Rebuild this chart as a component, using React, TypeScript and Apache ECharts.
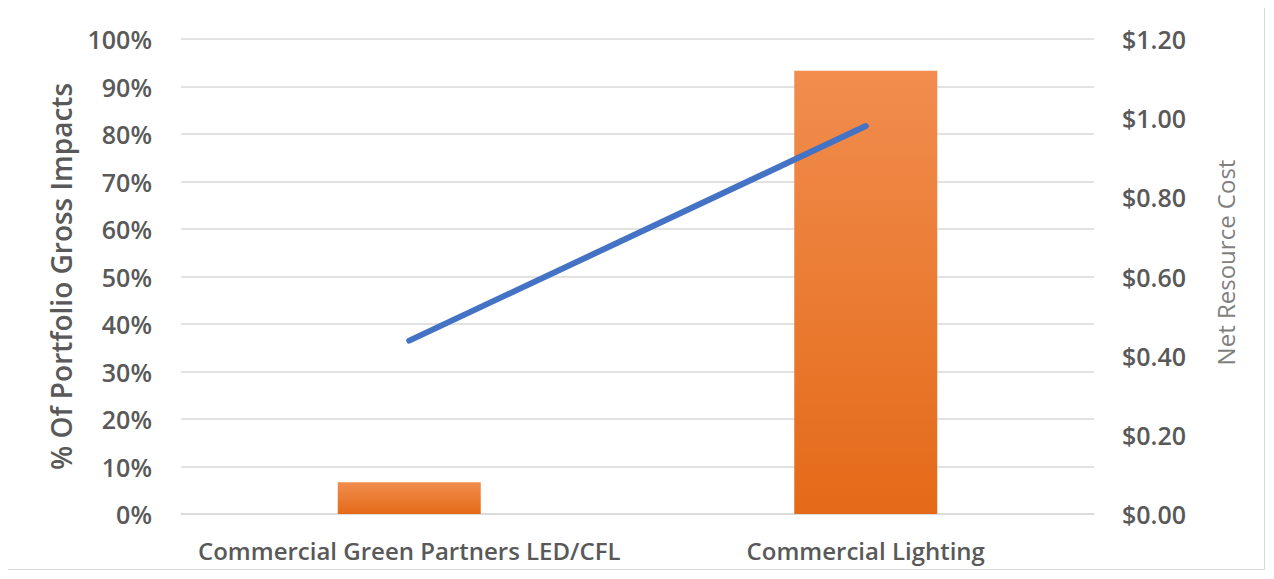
import React, { useEffect, useRef } from "react";
import * as echarts from "echarts";

const categories = ["Commercial Green Partners LED/CFL", "Commercial Lighting"];
const grossImpacts = [0.067, 0.933];
const netResourceCost = [0.438, 0.98];
const leftTicks = { min: 0, max: 1, interval: 0.1 };
const rightTicks = { min: 0, max: 1.2, interval: 0.2 };

const FONT = "'Open Sans', 'Noto Sans', sans-serif";

export default function App() {
  const ref = useRef<HTMLDivElement>(null);
  useEffect(() => {
    if (!ref.current) return;
    const chart = echarts.init(ref.current, undefined, { renderer: "svg" });
    chart.setOption({
      animation: false,
      backgroundColor: "#ffffff",
      textStyle: { fontFamily: FONT },
      grid: { left: 173, right: 170, top: 31, bottom: 55, containLabel: false },
      xAxis: {
        type: "category",
        data: categories,
        axisLine: { show: true, lineStyle: { color: "#d9d9d9", width: 1.5 } },
        axisTick: { show: false },
        axisLabel: {
          interval: 0,
          hideOverlap: false,
          margin: 24,
          color: "#595959",
          fontSize: 24,
          fontWeight: 600,
          fontFamily: FONT,
        },
      },
      yAxis: [
        {
          type: "value",
          min: leftTicks.min,
          max: leftTicks.max,
          interval: leftTicks.interval,
          name: "% Of Portfolio Gross Impacts",
          nameLocation: "middle",
          nameRotate: 90,
          nameGap: 106,
          nameTextStyle: { color: "#595959", fontSize: 28, fontWeight: 600, fontFamily: FONT },
          axisLine: { show: false },
          axisTick: { show: false },
          splitLine: { lineStyle: { color: "#d9d9d9", width: 1.5 } },
          axisLabel: {
            margin: 29,
            color: "#595959",
            fontSize: 25,
            fontWeight: 600,
            fontFamily: FONT,
            formatter: (v: number) => Math.round(v * 100) + "%",
          },
        },
        {
          type: "value",
          min: rightTicks.min,
          max: rightTicks.max,
          interval: rightTicks.interval,
          name: "Net Resource Cost",
          nameLocation: "middle",
          nameRotate: 90,
          nameGap: 119,
          nameTextStyle: {
            color: "#7f7f7f",
            fontSize: 24,
            fontWeight: 400,
            fontFamily: FONT,
            padding: [0, 0, 0, 28],
          },
          axisLine: { show: false },
          axisTick: { show: false },
          splitLine: { show: false },
          axisLabel: {
            margin: 28,
            color: "#595959",
            fontSize: 25,
            fontWeight: 600,
            fontFamily: FONT,
            formatter: (v: number) => "$" + v.toFixed(2),
          },
        },
      ],
      series: [
        {
          type: "bar",
          yAxisIndex: 0,
          data: grossImpacts,
          barWidth: 143,
          itemStyle: {
            color: new echarts.graphic.LinearGradient(0, 0, 0, 1, [
              { offset: 0, color: "#F18D4E" },
              { offset: 1, color: "#E46A18" },
            ]),
          },
        },
        {
          type: "line",
          yAxisIndex: 1,
          data: netResourceCost,
          showSymbol: false,
          symbol: "none",
          lineStyle: { color: "#4472C4", width: 6, cap: "round" },
        },
      ],
    });
    return () => chart.dispose();
  }, []);
  return (
    <div
      ref={ref}
      style={{
        width: 1258,
        height: 563,
        border: "1px solid #d9d9d9",
        boxSizing: "border-box",
        marginTop: -1,
        marginLeft: -1,
      }}
    />
  );
}
